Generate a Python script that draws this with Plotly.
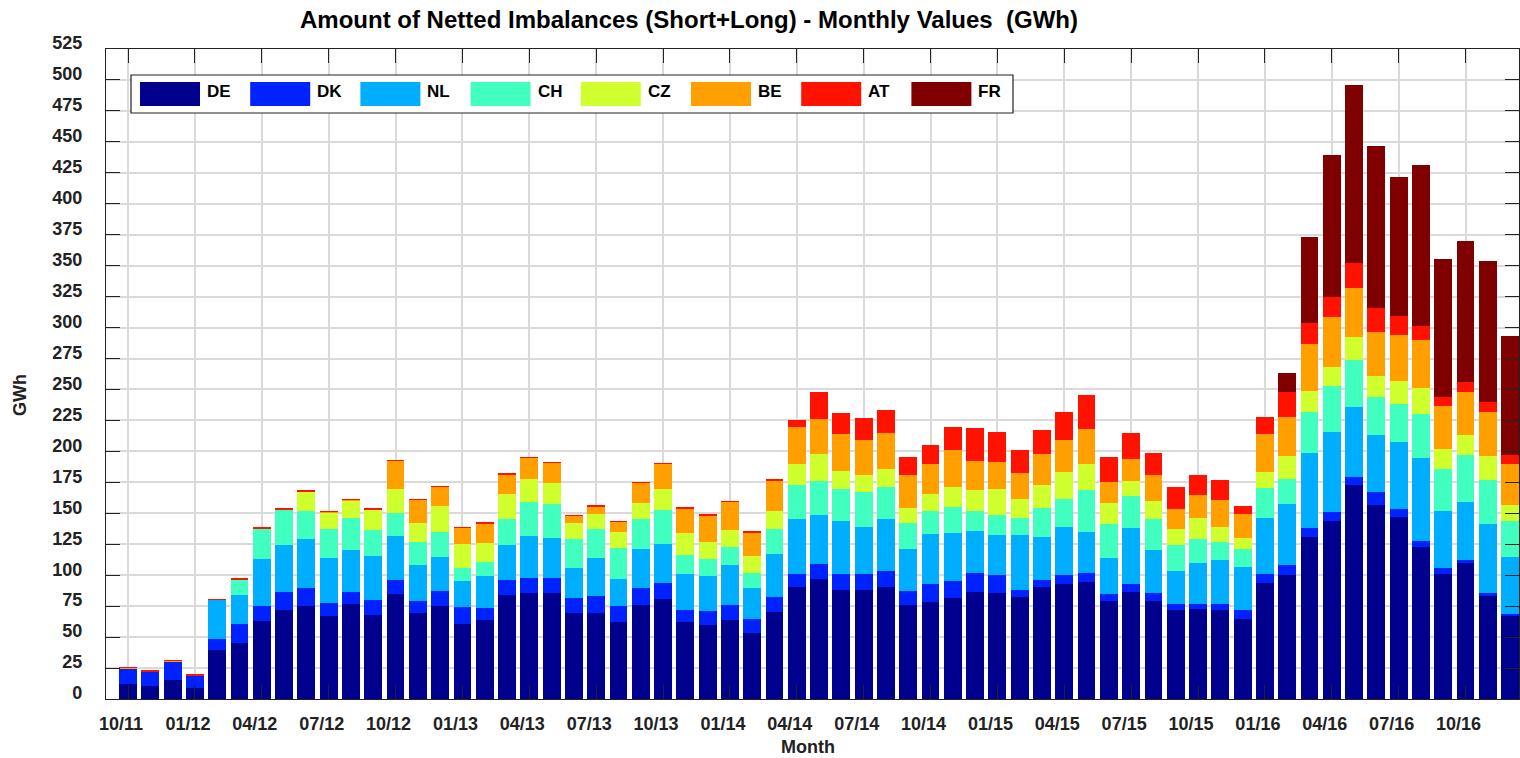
import plotly.graph_objects as go

# ---------------- data ----------------
months = []
for yy in range(11, 17):
    for mm in range(1, 13):
        if yy == 11 and mm < 10:
            continue
        months.append(f"{mm:02d}/{yy:02d}")

series_names = ["DE", "DK", "NL", "CH", "CZ", "BE", "AT", "FR"]
series_colors = ["#00008F", "#0022FF", "#00AEFF", "#40FFBF", "#D0FF2E", "#FFA000", "#FF1200", "#800000"]

DE = [12, 10.5, 15, 9, 39.5, 45, 63, 72, 75, 67, 76.5, 68, 84.5, 69.5, 75, 60.5, 64, 84, 85.5, 85.5,
      69.5, 69.5, 62.5, 76, 81, 62.5, 60, 64, 53.5, 70.5, 90.5, 97, 88, 88, 90.5, 76, 78.5, 81.5, 86.5, 85.5,
      82.5, 90.5, 93, 94.5, 79.5, 86.5, 79.5, 71.5, 72.5, 71.5, 64.5, 94, 100.5, 130.5, 144, 173, 156.5, 147, 122.5, 101,
      109.5, 83, 67.5]
DK = [13, 11.5, 15.5, 10, 9, 15.5, 12, 14.5, 14.5, 10.5, 10, 12, 11.5, 9.5, 12, 13.5, 9.5, 12, 12, 12,
      12, 14, 13, 14, 13, 9.5, 11, 12, 11.5, 11.5, 10.5, 12, 13, 13, 13, 11.5, 14.5, 14, 15.5, 14.5,
      5.5, 5.5, 7.5, 7.5, 5, 6.5, 6.5, 5, 4.5, 5.5, 7, 7, 7.5, 8, 7, 6, 11, 6.5, 5.5, 5,
      2.5, 3, 1.5]
NL = [0, 0, 0, 0, 31.5, 23.5, 38, 38, 39.5, 36, 34, 35.5, 35.5, 29, 27.5, 21, 26, 28.5, 34, 32.5,
      24, 30, 21.5, 31.5, 31.5, 29, 28.5, 32, 25, 35.5, 44.5, 39.5, 42.5, 38, 42, 34, 40.5, 38.5, 34, 32.5,
      44.5, 35, 38.5, 33, 29, 45, 34.5, 26.5, 33, 35.5, 35, 45.5, 49.5, 60.5, 64.5, 56.5, 46, 54, 67, 45.5,
      47, 55.5, 46]
CH = [0, 0, 0, 0, 0, 12.5, 24.5, 28.5, 22.5, 23.5, 26, 21, 18.5, 18.5, 20, 11, 11, 21, 28, 27.5,
      23.5, 24, 25, 23.5, 27.5, 15.5, 13.5, 14.5, 12, 19.5, 27.5, 27.5, 26.5, 28, 26, 21, 18.5, 21, 16, 16,
      13.5, 23.5, 22.5, 34, 27.5, 26, 25, 21, 19.5, 14.5, 14.5, 24, 20, 33, 37, 38, 30.5, 31, 35, 34,
      38, 35.5, 28.5]
CZ = [0, 0, 0, 0, 0, 0, 0, 0, 16, 14, 14, 16.5, 19.5, 15.5, 21, 19.5, 15.5, 20, 18, 17,
      13, 12, 13, 13.5, 17, 17.5, 14, 14, 13.5, 15, 17, 21.5, 14, 14, 14.5, 12, 13.5, 16, 17, 21,
      15.5, 18.5, 22, 21, 17.5, 12, 14.5, 13.5, 17, 12, 9, 13, 19, 16.5, 16, 19, 16.5, 18.5, 21, 16.5,
      16, 19, 13]
BE = [0.3, 0.3, 0.3, 0.3, 0.3, 0.3, 0.3, 0.3, 0.3, 0.3, 0.3, 0.3, 23, 19, 16, 13, 16, 16, 17.5, 16.5,
      6, 6, 8, 16, 20, 20, 21.5, 23, 19, 24.5, 30, 29, 30, 28, 29, 26.5, 24, 30, 23.5, 22,
      21, 25, 26, 28, 17, 17.5, 21, 16, 18.5, 22, 19.5, 30.5, 31.5, 38.5, 40, 39.5, 36, 37, 39, 34.5,
      35, 36, 33]
AT = [0.4, 0.4, 0.4, 0.4, 0.4, 0.4, 0.4, 0.4, 0.4, 0.4, 0.4, 0.4, 0.4, 0.4, 0.4, 0.4, 0.4, 0.4, 0.4, 0.4,
      0.4, 0.4, 0.4, 0.4, 0.4, 0.4, 0.4, 0.4, 0.4, 0.4, 5, 21.5, 17, 18, 18.5, 14.5, 16, 18.5, 26, 24,
      18.5, 19.5, 22.5, 27.5, 20, 21, 18, 18, 16, 15.5, 6.5, 13.5, 20, 16.5, 16.5, 20, 19.5, 15, 11, 7.5,
      8, 7.5, 7.5]
FR = [0] * 52 + [15, 69.5, 114, 144, 131, 112.5, 130.5, 111.5, 114, 114, 96]

series_values = [DE, DK, NL, CH, CZ, BE, AT, FR]

tick_step = 3
y_ticks = list(range(0, 526, 25))

# ---------------- figure ----------------
W, H = 1520, 758
L, R, T, B = 106, 1, 49, 59
FONT = "Liberation Sans, Arial, Helvetica, sans-serif"

fig = go.Figure()
xs = list(range(len(months)))
for name, color, vals in zip(series_names, series_colors, series_values):
    fig.add_trace(go.Bar(
        x=xs, y=vals, name=name, marker=dict(color=color, line=dict(width=0)),
        width=0.8, showlegend=False,
        customdata=months, hovertemplate="%{customdata}<br>" + name + ": %{y} GWh<extra></extra>",
    ))

tickvals = xs[::tick_step]
ticktext = months[::tick_step]


def px_x(p):
    return (p - L) / (W - L - R)


def px_y(p):
    return (H - B - p) / (H - T - B)


shapes = []
annotations = []
# legend box
shapes.append(dict(type="rect", xref="paper", yref="paper",
                   x0=px_x(131), x1=px_x(1013), y0=px_y(113), y1=px_y(75),
                   line=dict(color="#222222", width=1.2), fillcolor="white", layer="above"))
for i, (name, color) in enumerate(zip(series_names, series_colors)):
    x0 = 140 + i * 110.2
    shapes.append(dict(type="rect", xref="paper", yref="paper",
                       x0=px_x(x0), x1=px_x(x0 + 60), y0=px_y(106), y1=px_y(82),
                       line=dict(width=0), fillcolor=color, layer="above"))
    annotations.append(dict(xref="paper", yref="paper", x=px_x(x0 + 65), y=px_y(80),
                            xanchor="left", yanchor="top", showarrow=False, text=name,
                            font=dict(family=FONT, size=17, color="black", weight="bold")))

# axis titles
annotations.append(dict(xref="paper", yref="paper", x=px_x(808), y=px_y(747), xanchor="center",
                        yanchor="middle", showarrow=False, text="Month",
                        font=dict(family=FONT, size=18, color="#222222", weight="bold")))
annotations.append(dict(xref="paper", yref="paper", x=px_x(20), y=px_y(395), xanchor="center",
                        yanchor="middle", showarrow=False, text="GWh", textangle=-90,
                        font=dict(family=FONT, size=18, color="#222222", weight="bold")))

fig.update_layout(
    width=W, height=H,
    margin=dict(l=L, r=R, t=T, b=B),
    paper_bgcolor="white", plot_bgcolor="white",
    barmode="stack", bargap=0.2,
    title=dict(text="Amount of Netted Imbalances (Short+Long) - Monthly Values  (GWh)",
               x=689 / W, xanchor="center", y=1 - 20 / H, yanchor="middle",
               font=dict(family=FONT, size=24, color="black", weight="bold")),
    xaxis=dict(range=[-0.99, len(months) - 0.6], tickmode="array", tickvals=tickvals, ticktext=ticktext,
               showgrid=True, gridcolor="#DADADA", gridwidth=1.5,
               showline=True, linecolor="#222222", linewidth=1.2, mirror="allticks",
               ticks="inside", ticklen=14, tickwidth=1.2, tickcolor="#222222",
               ticklabelshift=-7, ticklabelstandoff=8,
               tickfont=dict(family=FONT, size=18, color="#222222", weight="bold"), zeroline=False),
    yaxis=dict(range=[0, 525], tickmode="array", tickvals=y_ticks,
               showgrid=True, gridcolor="#DADADA", gridwidth=1.5,
               showline=True, linecolor="#222222", linewidth=1.2, mirror="allticks",
               ticks="inside", ticklen=14, tickwidth=1.2, tickcolor="#222222",
               ticklabelshift=-6, ticklabelstandoff=19,
               tickfont=dict(family=FONT, size=18, color="#222222", weight="bold"), zeroline=False),
    shapes=shapes, annotations=annotations,
)

fig.write_html("out.html", config={"displayModeBar": False},
               post_script="document.body.style.margin='0px';document.body.style.overflow='hidden';")
